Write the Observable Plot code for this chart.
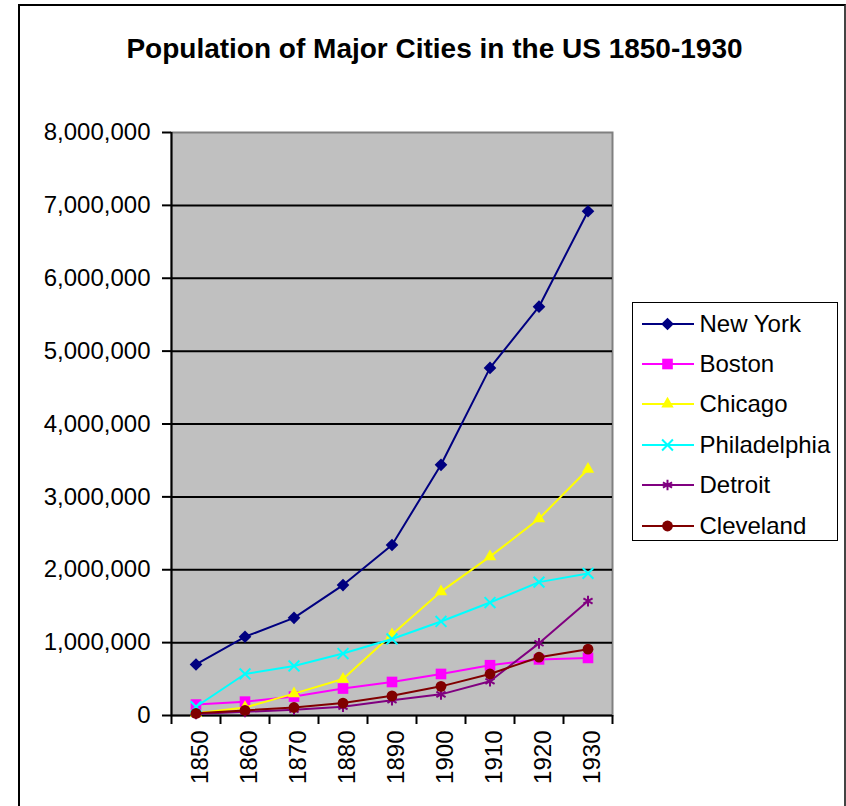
<!DOCTYPE html>
<html><head><meta charset="utf-8">
<script src="https://cdn.jsdelivr.net/npm/d3@7"></script>
<script src="https://cdn.jsdelivr.net/npm/@observablehq/plot@0.6"></script>
<style>
html,body{margin:0;padding:0;background:#fff;overflow:hidden}
#wrap{position:relative;width:846px;height:806px;font-family:"Liberation Sans",Arial,sans-serif;color:#000;overflow:hidden}
#border{position:absolute;left:18px;top:4px;width:824px;height:830px;border-left:2px solid #000;border-top:2px solid #000;border-right:2px solid #444}
#title{position:absolute;left:0;width:869px;top:35px;line-height:28px;font-size:28px;font-weight:bold;text-align:center;white-space:nowrap}
#chart{position:absolute;left:0;top:0}
#legend{position:absolute;left:632px;top:302px;width:204px;height:237px;border:1.5px solid #000;background:#fff}
.row{position:absolute;left:0;height:40px;display:flex;align-items:center}
.row svg{margin-left:8.5px;margin-right:6px;overflow:visible}
.row span{font-size:24px;line-height:24px;white-space:nowrap}
</style>
</head><body>
<div id="wrap">
  <div id="border"></div>
  <div id="title">Population of Major Cities in the US 1850-1930</div>
  <div id="chart"></div>
  <div id="legend"></div>
</div>
<script>
// ---- data ----
const years = [1850, 1860, 1870, 1880, 1890, 1900, 1910, 1920, 1930];
const cities = ["New York", "Boston", "Chicago", "Philadelphia", "Detroit", "Cleveland"];
const newYork      = [700000, 1080000, 1340000, 1790000, 2340000, 3440000, 4770000, 5610000, 6920000];
const boston       = [150000, 190000, 260000, 370000, 460000, 570000, 690000, 770000, 790000];
const chicago      = [30000, 110000, 300000, 500000, 1110000, 1700000, 2180000, 2700000, 3380000];
const philadelphia = [120000, 570000, 680000, 850000, 1050000, 1290000, 1550000, 1830000, 1950000];
const detroit      = [20000, 50000, 80000, 120000, 210000, 290000, 470000, 990000, 1570000];
const cleveland    = [30000, 70000, 110000, 170000, 270000, 400000, 570000, 800000, 910000];
const yTicks = [0, 1000000, 2000000, 3000000, 4000000, 5000000, 6000000, 7000000, 8000000];

// ---- styles ----
const seriesValues = [newYork, boston, chicago, philadelphia, detroit, cleveland];
const colors = ["#000080", "#ff00ff", "#ffff00", "#00ffff", "#800080", "#800000"];
const symbols = ["diamond2", "square", "triangle", "times", "asterisk", "circle"];
const radii = [5.7, 6, 4.6, 5, 5, 5.4];
const filled = [true, true, true, false, false, true];
const d3Symbols = {diamond2: d3.symbolDiamond2, square: d3.symbolSquare, triangle: d3.symbolTriangle,
  times: d3.symbolTimes, asterisk: d3.symbolAsterisk, circle: d3.symbolCircle};

const half = (years[1] - years[0]) / 2;
const bounds = years.map(y => y - half).concat([years[years.length - 1] + half]);
const gridTicks = yTicks.slice(1, -1);

const seriesMarks = cities.flatMap((c, k) => {
  const data = years.map((y, i) => ({city: c, year: y, value: seriesValues[k][i]}));
  return [
    Plot.line(data, {x: "year", y: "value", stroke: colors[k], strokeWidth: 2}),
    Plot.dot(data, filled[k]
      ? {x: "year", y: "value", symbol: symbols[k], r: radii[k], fill: colors[k], stroke: "none"}
      : {x: "year", y: "value", symbol: symbols[k], r: radii[k], fill: "none", stroke: colors[k], strokeWidth: 2})
  ];
});

const chart = Plot.plot({
  width: 846, height: 806,
  marginLeft: 171, marginRight: 234, marginTop: 132, marginBottom: 91,
  x: {domain: [bounds[0], bounds[bounds.length - 1]]},
  y: {domain: [yTicks[0], yTicks[yTicks.length - 1]]},
  style: {fontFamily: '"Liberation Sans", Arial, sans-serif', fontSize: "24px", background: "transparent", color: "#000", overflow: "visible"},
  marks: [
    Plot.frame({fill: "#c0c0c0"}),
    Plot.frame({stroke: "#808080", strokeWidth: 2}),
    Plot.ruleY(gridTicks, {stroke: "#000", strokeWidth: 2}),
    Plot.ruleX([bounds[0]], {stroke: "#000", strokeWidth: 2}),
    Plot.ruleY([0], {stroke: "#000", strokeWidth: 2}),
    Plot.axisY({ticks: yTicks, tickFormat: d3.format(","), tickSize: 9, tickPadding: 12, fontSize: 24, strokeWidth: 2, label: null}),
    Plot.axisX({ticks: bounds, tickSize: 9, tickFormat: () => "", strokeWidth: 2, label: null}),
    Plot.text(years, {x: d => d, frameAnchor: "bottom", text: d => String(d), rotate: -90, textAnchor: "end", dx: 12, dy: 15, fontSize: 24, fill: "#000"}),
    ...seriesMarks
  ]
});
document.getElementById("chart").appendChild(chart);

// ---- legend ----
const legend = document.getElementById("legend");
cities.forEach((c, k) => {
  const row = document.createElement("div");
  row.className = "row";
  row.style.top = (0.5 + k * 40.4) + "px";
  const size = Math.PI * radii[k] * radii[k];
  const path = d3.symbol(d3Symbols[symbols[k]], size)();
  const symStyle = filled[k] ? `fill="${colors[k]}" stroke="none"` : `fill="none" stroke="${colors[k]}" stroke-width="2"`;
  row.innerHTML = `<svg width="52" height="20" viewBox="0 0 52 20">
    <line x1="0" x2="52" y1="10" y2="10" stroke="${colors[k]}" stroke-width="2"/>
    <path d="${path}" transform="translate(25.5,10)" ${symStyle}/>
  </svg><span>${c}</span>`;
  legend.appendChild(row);
});
</script>
</body></html>
